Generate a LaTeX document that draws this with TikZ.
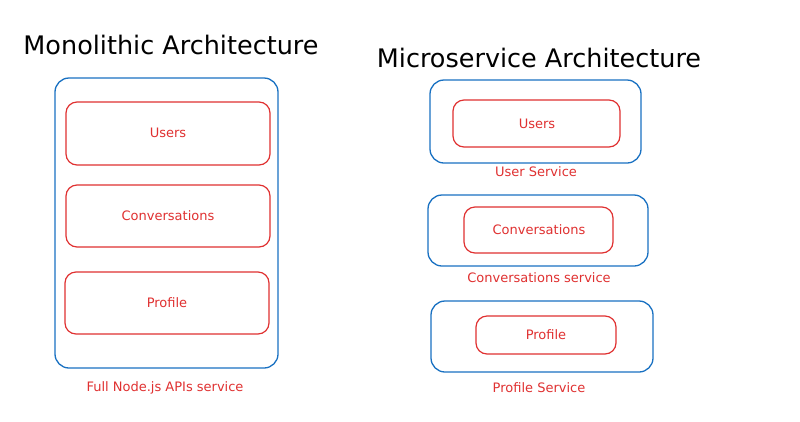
\documentclass[tikz,border=0pt]{standalone}
\usepackage{fontspec}
\setmainfont{DejaVu Sans}
\definecolor{xblue}{HTML}{1971C2}
\definecolor{xred}{HTML}{E03131}
\begin{document}
\begin{tikzpicture}[x=1pt,y=-1pt,
  outerbox/.style={draw=xblue,line width=1.3pt,rounded corners=14pt},
  innerbox/.style={draw=xred,line width=1.2pt,rounded corners=11pt},
  lbl/.style={text=xred,font=\fontsize{13}{15}\selectfont},
  ttl/.style={text=black,font=\fontsize{25.5}{30}\selectfont}]
\useasboundingbox (0,0) rectangle (800,421);
\fill[white] (0,0) rectangle (800,421);
% Monolithic
\node[ttl] (t1) at (171,45) {Monolithic Architecture};
\draw[outerbox] (55,78) rectangle (278,368);
\draw[innerbox] (66,102) rectangle (270,165);
\node[lbl] (mu) at (168,133) {Users};
\draw[innerbox] (66,185) rectangle (270,247);
\node[lbl] (mc) at (168,216) {Conversations};
\draw[innerbox] (65,272) rectangle (269,334);
\node[lbl] (mp) at (167,303) {Profile};
\node[lbl] (ml) at (165,388) {Full Node.js APIs service};
% Microservice
\node[ttl] (t2) at (539,58) {Microservice Architecture};
\draw[outerbox] (430,80) rectangle (641,163);
\draw[innerbox] (453,100) rectangle (620,147);
\node[lbl] (su) at (537,124) {Users};
\node[lbl] (sul) at (536,172) {User Service};
\draw[outerbox] (428,195) rectangle (648,266);
\draw[innerbox] (464,207) rectangle (613,253);
\node[lbl] (sc) at (539,230) {Conversations};
\node[lbl] (scl) at (539,278) {Conversations service};
\draw[outerbox] (431,301) rectangle (653,372);
\draw[innerbox] (476,316) rectangle (616,354);
\node[lbl] (sp) at (546,335) {Profile};
\node[lbl] (spl) at (539,388) {Profile Service};
\end{tikzpicture}
\end{document}
